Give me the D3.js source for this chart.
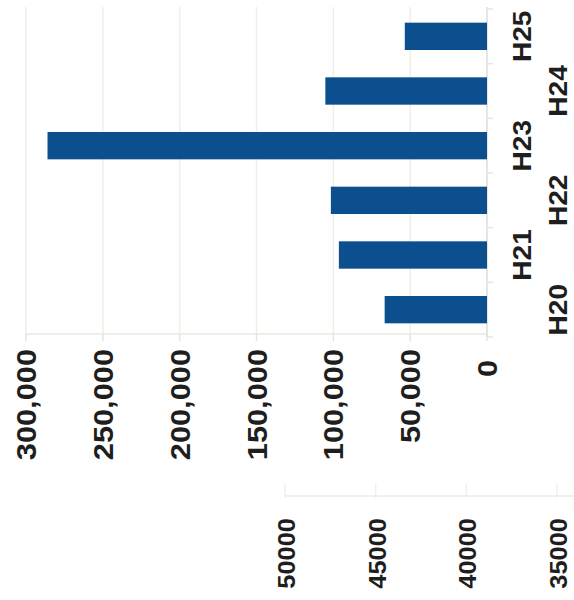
<!DOCTYPE html>
<html>
<head>
<meta charset="utf-8">
<script src="https://cdn.jsdelivr.net/npm/d3@7"></script>
<style>
  body { margin: 0; background: #fff; }
  svg { display: block; }
  text { font-family: "Liberation Sans", Arial, sans-serif; font-weight: bold; fill: #1e1e1e; }
</style>
</head>
<body>
<svg width="574" height="600"></svg>
<script>
// chart data (the scan is rotated, so categories run bottom -> top)
var categories = ["H20", "H21", "H22", "H23", "H24", "H25"];
var values = [66600, 96400, 101600, 286000, 105200, 53500];
var valueTicks = [0, 50000, 100000, 150000, 200000, 250000, 300000];
// second (cut-off) chart below: only its axis is visible
var lowerTicks = [50000, 45000, 40000, 35000];

var svg = d3.select("svg");

var x = d3.scaleLinear().domain([0, 300000]).range([487, 26]);
var y = d3.scaleBand().domain(categories).range([337, 9]).paddingInner(0.5).paddingOuter(0.25);
var fmt = d3.format(",");

// gridlines
svg.selectAll(".grid").data(valueTicks.slice(1)).enter().append("line")
  .attr("x1", function(d) { return x(d); }).attr("x2", function(d) { return x(d); })
  .attr("y1", 7).attr("y2", 336)
  .attr("stroke", "#efefe6").attr("stroke-width", 1.5);

// value axis line with ticks
svg.append("line").attr("x1", x(300000)).attr("x2", x(0)).attr("y1", 334).attr("y2", 334)
  .attr("stroke", "#e8e8e2").attr("stroke-width", 1.5);
svg.selectAll(".vtick").data(valueTicks).enter().append("line")
  .attr("x1", function(d) { return x(d); }).attr("x2", function(d) { return x(d); })
  .attr("y1", 334).attr("y2", 341)
  .attr("stroke", "#e4e4de").attr("stroke-width", 1.5);

// category axis (baseline)
svg.append("line").attr("x1", x(0)).attr("x2", x(0)).attr("y1", 7).attr("y2", 337)
  .attr("stroke", "#dcdcd8").attr("stroke-width", 1.5);
var edges = categories.map(function(c) { return y(c) + y.bandwidth() + y.step() * y.paddingInner() / 2; });
edges.push(y(categories[categories.length - 1]) - y.step() * y.paddingInner() / 2);
svg.selectAll(".ctick").data(edges).enter().append("line")
  .attr("x1", x(0)).attr("x2", x(0) + 6)
  .attr("y1", function(d) { return d; }).attr("y2", function(d) { return d; })
  .attr("stroke", "#e6e6e2").attr("stroke-width", 1.5);

// bars
svg.selectAll(".bar").data(values).enter().append("rect")
  .attr("class", "bar")
  .attr("x", function(d) { return x(d); })
  .attr("y", function(d, i) { return y(categories[i]); })
  .attr("width", function(d) { return x(0) - x(d); })
  .attr("height", y.bandwidth())
  .attr("fill", "#0b4f8e");

// category labels, staggered in two rows
svg.selectAll(".clabel").data(categories).enter().append("text")
  .attr("transform", function(d, i) {
    var bx = (i % 2 == 1) ? 531 : 567;
    return "translate(" + bx + "," + (y(d) + y.bandwidth() / 2) + ") rotate(-90) scale(1.08,1)";
  })
  .attr("text-anchor", "middle")
  .style("font-size", "26px")
  .text(function(d) { return d; });

// value labels
svg.selectAll(".vlabel").data(valueTicks).enter().append("text")
  .attr("transform", function(d) {
    var top = d == 0 ? 360 : 349; // the zero sits a bit lower in the scan
    return "translate(" + (x(d) + 10) + "," + top + ") rotate(-90) scale(1.14,1)";
  })
  .attr("text-anchor", "end")
  .style("font-size", "27px")
  .text(function(d) { return fmt(d); });

// lower chart axis
var x2 = d3.scaleLinear().domain([35000, 50000]).range([559, 287]);
svg.append("line").attr("x1", 285).attr("x2", 574).attr("y1", 496).attr("y2", 496)
  .attr("stroke", "#ececE6").attr("stroke-width", 1.5);
svg.selectAll(".ltick").data(lowerTicks).enter().append("line")
  .attr("x1", function(d) { return x2(d) - 2; }).attr("x2", function(d) { return x2(d) - 2; })
  .attr("y1", 484).attr("y2", 498)
  .attr("stroke", "#efefea").attr("stroke-width", 1.5);
svg.selectAll(".llabel").data(lowerTicks).enter().append("text")
  .attr("transform", function(d) {
    return "translate(" + (x2(d) + 8) + ",518) rotate(-90) scale(1.06,1)";
  })
  .attr("text-anchor", "end")
  .style("font-size", "24px")
  .text(function(d) { return d; });
</script>
</body>
</html>
